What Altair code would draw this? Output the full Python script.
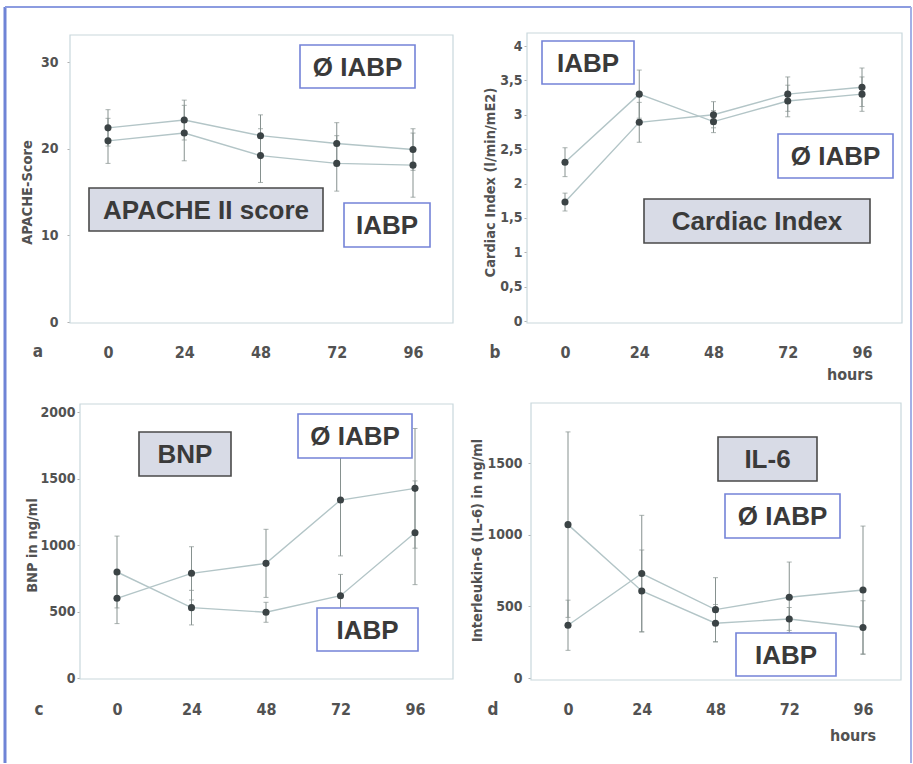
import altair as alt
import pandas as pd

# ---------------- data ----------------
hours = [0, 24, 48, 72, 96]
series_names = ["IABP", "Ø IABP"]

# a: APACHE II score
apache_iabp = [20.9, 21.8, 19.2, 18.3, 18.1]
apache_iabp_err = [2.6, 3.2, 3.1, 3.2, 3.7]
apache_no = [22.4, 23.3, 21.5, 20.6, 19.9]
apache_no_err = [2.1, 2.3, 2.4, 2.4, 2.4]

# b: Cardiac index
ci_iabp = [1.73, 2.89, 3.00, 3.30, 3.40]
ci_iabp_err = [0.13, 0.29, 0.19, 0.25, 0.28]
ci_no = [2.31, 3.30, 2.90, 3.20, 3.30]
ci_no_err = [0.21, 0.35, 0.16, 0.23, 0.25]

# c: BNP
bnp_iabp = [797, 529, 494, 619, 1092]
bnp_iabp_err = [270, 130, 75, 160, 390]
bnp_no = [599, 787, 862, 1338, 1426]
bnp_no_err = [190, 200, 256, 420, 450]

# d: IL-6
il6_iabp = [1070, 607, 382, 412, 352]
il6_iabp_err = [647, 286, 131, 80, 187]
il6_no = [368, 729, 477, 563, 614]
il6_no_err = [175, 406, 223, 246, 446]

y_ticks_a = [0, 10, 20, 30]
y_ticks_b = [0, 0.5, 1, 1.5, 2, 2.5, 3, 3.5, 4]
y_ticks_c = [0, 500, 1000, 1500, 2000]
y_ticks_d = [0, 500, 1000, 1500]

# ---------------- styles ----------------
NARROW = "Liberation Sans Narrow, DejaVu Sans Condensed, Arial Narrow, sans-serif"
SANS = "Liberation Sans, Arial, Helvetica, sans-serif"
AXIS_GRAY = "#525252"
LINE_COL = "#b3c5c7"
ERR_COL = "#86918f"
PT_COL = "#3b4345"
FRAME_COL = "#c9d8dc"
BLUE_BOX = "#7483d8"
TEXT_DARK = "#3a3a3a"


def make_df(m1, e1, m2, e2):
    rows = []
    for name, m, e in ((series_names[0], m1, e1), (series_names[1], m2, e2)):
        for h, v, err in zip(hours, m, e):
            rows.append({"hours": h, "series": name, "mean": v,
                         "lo": v - err, "hi": v + err})
    return pd.DataFrame(rows)


ONE = pd.DataFrame({"k": [0]})


def vrect(x1, x2, y1, y2, **kw):
    return alt.Chart(ONE).mark_rect(**kw).encode(
        x=alt.value(x1), x2=alt.value(x2), y=alt.value(y1), y2=alt.value(y2))


def vtext(txt, x, y, **kw):
    return alt.Chart(ONE).mark_text(**kw).encode(
        x=alt.value(x), y=alt.value(y), text=alt.value(txt))


def box(txt, x1, x2, y1, y2, gray=False):
    if gray:
        r = vrect(x1, x2, y1, y2, fill="#d8dbe6", stroke="#4a4a4a", strokeWidth=1.6)
    else:
        r = vrect(x1, x2, y1, y2, fill="white", stroke=BLUE_BOX, strokeWidth=1.6)
    t = vtext(txt, (x1 + x2) / 2, (y1 + y2) / 2 + 1, font=SANS, fontSize=26,
              fontWeight="bold", color=TEXT_DARK, align="center", baseline="middle")
    return [r, t]


def panel(df, xrange, ydomain, yrange, yticks, ytitle, title_x, title_y,
          label_pad, offset, frame, boxes, letter, letter_pos, hours_pos=None,
          label_expr="format(datum.value, 'd')", shapes=("circle", "circle")):
    yaxis = alt.Axis(values=yticks, tickCount=30, title=ytitle, grid=False,
                     domain=False, ticks=True, tickSize=3, tickColor="#b0b0b0",
                     tickWidth=1, labelPadding=label_pad, offset=offset,
                     labelOverlap=False, labelExpr=label_expr,
                     labelFont=NARROW, labelFontSize=14, labelFontWeight="bold",
                     labelColor=AXIS_GRAY, titleFont=NARROW, titleFontSize=14.5,
                     titleFontWeight="bold", titleColor=AXIS_GRAY, titleAngle=270,
                     titleX=title_x, titleY=title_y, titleAlign="center",
                     titleBaseline="middle")
    xaxis = alt.Axis(values=hours, tickCount=30, title=None, grid=False, domain=False,
                     ticks=False, tickSize=0, labelPadding=21, labelFont=NARROW,
                     labelFontSize=16, labelFontWeight="bold", labelColor=AXIS_GRAY,
                     labelFlush=False, labelOverlap=False)
    xs = alt.Scale(domain=[0, 96], range=xrange, zero=False, nice=False)
    ys = alt.Scale(domain=ydomain, range=yrange, zero=False, nice=False)

    base = alt.Chart(df)
    layers = [vrect(*frame, fill="white", stroke=FRAME_COL, strokeWidth=1.2)]
    layers.append(base.mark_line(color=LINE_COL, strokeWidth=1.4).encode(
        x=alt.X("hours:Q", scale=xs, axis=xaxis),
        y=alt.Y("mean:Q", scale=ys, axis=yaxis),
        detail="series:N"))
    layers.append(base.mark_rule(color=ERR_COL, strokeWidth=1).encode(
        x="hours:Q", y="lo:Q", y2="hi:Q"))
    layers.append(base.mark_tick(color=ERR_COL, orient="horizontal", size=5,
                                 thickness=1).encode(x="hours:Q", y="lo:Q"))
    layers.append(base.mark_tick(color=ERR_COL, orient="horizontal", size=5,
                                 thickness=1).encode(x="hours:Q", y="hi:Q"))
    layers.append(base.mark_point(filled=True, size=50, opacity=1, color=PT_COL).encode(
        x="hours:Q", y="mean:Q",
        shape=alt.Shape("series:N", scale=alt.Scale(domain=series_names,
                                                    range=list(shapes)), legend=None)))
    for b in boxes:
        layers.extend(box(*b))
    layers.append(vtext(letter, letter_pos[0], letter_pos[1], font=NARROW, fontSize=17,
                        fontWeight="bold", color=AXIS_GRAY, align="center",
                        baseline="middle"))
    if hours_pos is not None:
        layers.append(vtext("hours", hours_pos[0], hours_pos[1], font=NARROW,
                            fontSize=16, fontWeight="bold", color=AXIS_GRAY,
                            align="center", baseline="middle"))
    return layers


# panel a (origin at page x=70, y=33)
layers_a = panel(make_df(apache_iabp, apache_iabp_err, apache_no, apache_no_err),
                 [38, 343], [0, 30], [289, 29], y_ticks_a, "APACHE-Score",
                 -43, 159, 9, 0, (0, 383, 2, 290),
                 [("Ø IABP", 230, 345, 12, 55), ("IABP", 274, 360, 170, 214),
                  ("APACHE II score", 19, 253, 155, 198, True)],
                 "a", (-32, 319))
# outer page frame, drawn inside panel a
layers_a = [vrect(-70, 841, -33, 730, fill="white", opacity=0)] + [
    alt.Chart(ONE).mark_rule(color="#6f84d6", strokeWidth=3).encode(
        x=alt.value(-65), y=alt.value(-26), y2=alt.value(730)),
    alt.Chart(ONE).mark_rule(color="#8c9ce0", strokeWidth=2).encode(
        x=alt.value(-65), x2=alt.value(841), y=alt.value(-26)),
    alt.Chart(ONE).mark_rule(color="#a3b0e6", strokeWidth=2).encode(
        x=alt.value(841), y=alt.value(-26), y2=alt.value(730)),
] + layers_a

layers_b = panel(make_df(ci_iabp, ci_iabp_err, ci_no, ci_no_err),
                 [38, 335], [0, 4], [288, 13], y_ticks_b,
                 "Cardiac Index (l/min/mE2)", -37, 149, 2, 0, (0, 375, 0, 290),
                 [("IABP", 15, 107, 8, 51), ("Ø IABP", 251, 366, 101, 145),
                  ("Cardiac Index", 117, 343, 166, 210, True)],
                 "b", (-32, 320), hours_pos=(323, 342),
                 label_expr="replace(format(datum.value, '~g'), '.', ',')",
                 shapes=("square", "circle"))

layers_c = panel(make_df(bnp_iabp, bnp_iabp_err, bnp_no, bnp_no_err),
                 [47, 345], [0, 2000], [275, 9], y_ticks_c,
                 "BNP in ng/ml", -48, 142, 2, -10, (10, 383, 1, 276),
                 [("BNP", 69, 161, 29, 73, True), ("Ø IABP", 228, 342, 11, 55),
                  ("IABP", 247, 348, 205, 248)],
                 "c", (-31, 307))

layers_d = panel(make_df(il6_iabp, il6_iabp_err, il6_no, il6_no_err),
                 [41, 336], [0, 1500], [275, 60], y_ticks_d,
                 "Interleukin-6 (IL-6) in ng/ml", -54, 137, 6, -4, (4, 374, 0, 277),
                 [("IL-6", 191, 290, 34, 78, True), ("Ø IABP", 198, 313, 91, 135),
                  ("IABP", 209, 309, 230, 273)],
                 "d", (-34, 307), hours_pos=(326, 333))

pa = alt.layer(*layers_a).properties(width=383, height=290)
pb = alt.layer(*layers_b).properties(width=375, height=290)
pc = alt.layer(*layers_c).properties(width=383, height=277)
pd_ = alt.layer(*layers_d).properties(width=375, height=277)

chart = alt.concat(
    pa, pb, pc, pd_, columns=2,
    spacing=alt.RowColnumber(row=80, column=74), bounds="flush"
).properties(padding=0, background="white").configure_view(stroke=None)

chart.save("out.html", embed_options={"renderer": "svg", "actions": False})
